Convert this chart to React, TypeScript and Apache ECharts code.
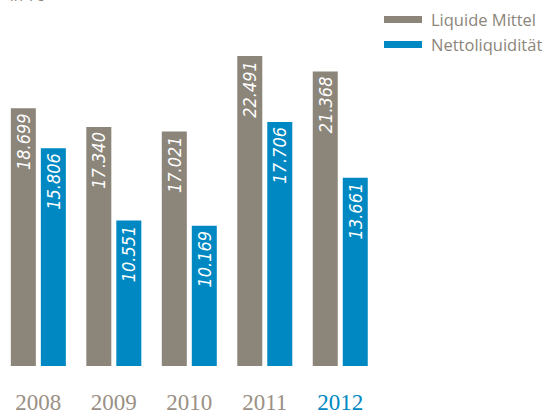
import React, { useEffect, useRef } from "react";
import * as echarts from "echarts";

const years = ["2008", "2009", "2010", "2011", "2012"];
const liquideMittel = [18.699, 17.34, 17.021, 22.491, 21.368];
const nettoliquiditaet = [15.806, 10.551, 10.169, 17.706, 13.661];
const seriesNames = ["Liquide Mittel", "Nettoliquidität"];
const unitLabel = "in T€";

const GRAY = "#8c857a";
const BLUE = "#0088c2";

const fmt = (v: number) => v.toFixed(3);

export default function App() {
  const ref = useRef<HTMLDivElement>(null);
  useEffect(() => {
    if (!ref.current) return;
    const chart = echarts.init(ref.current, undefined, { renderer: "svg" });
    const label = {
      show: true,
      position: "insideTop",
      rotate: 90,
      align: "right",
      verticalAlign: "middle",
      distance: 5,
      color: "#ffffff",
      fontFamily: "DejaVu Sans Condensed",
      fontStyle: "oblique",
      fontSize: 18,
      formatter: (p: any) => fmt(p.value),
    };
    chart.setOption({
      animation: false,
      grid: { left: 0.6, right: 169, top: 21.5, bottom: 45, containLabel: false },
      legend: {
        orient: "vertical",
        left: 379,
        top: 6,
        itemWidth: 38,
        itemHeight: 7,
        itemGap: 8,
        icon: "rect",
        textStyle: { color: GRAY, fontSize: 16.5, fontFamily: "Open Sans", padding: [0, 0, 0, 4] },
        data: seriesNames,
      },
      graphic: [
        {
          type: "text",
          left: 10,
          top: -13,
          style: { text: unitLabel, fill: GRAY, fontSize: 15, fontFamily: "Open Sans" },
        },
      ],
      xAxis: {
        type: "category",
        data: years,
        axisLine: { show: false },
        axisTick: { show: false },
        axisLabel: {
          margin: 25,
          fontFamily: "Liberation Serif",
          fontSize: 23,
          color: (_v: any, i: number) => (i === years.length - 1 ? BLUE : "#9a9085"),
        },
      },
      yAxis: {
        type: "value",
        min: 0,
        max: 25,
        show: false,
        splitLine: { show: false },
      },
      series: [
        {
          name: seriesNames[0],
          type: "bar",
          data: liquideMittel,
          barWidth: 25,
          barGap: "20%",
          itemStyle: { color: GRAY },
          label,
        },
        {
          name: seriesNames[1],
          type: "bar",
          data: nettoliquiditaet,
          barWidth: 25,
          itemStyle: { color: BLUE },
          label,
        },
      ],
    });
    return () => chart.dispose();
  }, []);
  return (
    <div
      ref={ref}
      style={{ position: "fixed", left: 0, top: 0, width: 547, height: 414, background: "#fff" }}
    />
  );
}
